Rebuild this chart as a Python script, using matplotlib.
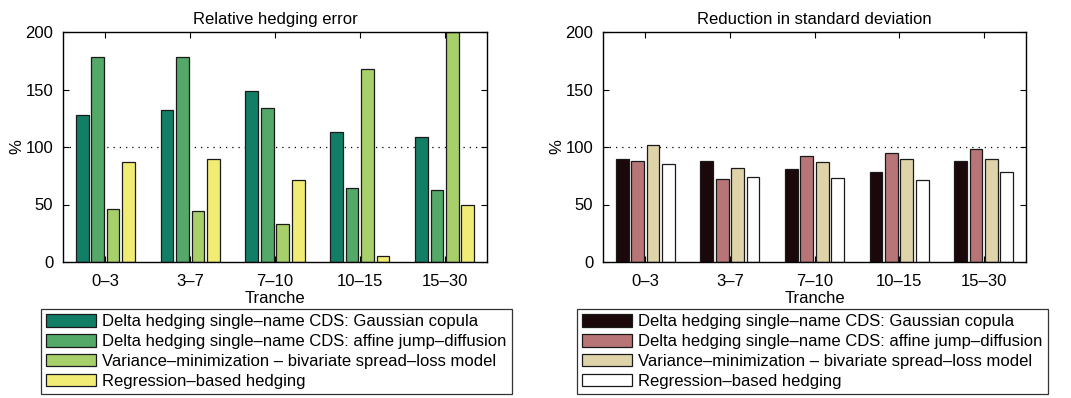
import matplotlib
matplotlib.use("Agg")
import matplotlib.pyplot as plt
import numpy as np

plt.rcParams['font.family'] = ['Liberation Sans', 'DejaVu Sans']

tranches = ["0–3", "3–7", "7–10", "10–15", "15–30"]
strategies = [
    "Delta hedging single–name CDS: Gaussian copula",
    "Delta hedging single–name CDS: affine jump–diffusion",
    "Variance–minimization – bivariate spread–loss model",
    "Regression–based hedging",
]

# Relative hedging error (%) per strategy, one value per tranche
err_gauss = [128, 132, 149, 113, 109]
err_affine = [178, 178, 134, 64, 63]
err_varmin = [46, 44, 33, 168, 200]
err_regr = [87, 90, 71, 5, 50]

# Reduction in standard deviation (%) per strategy
red_gauss = [90, 88, 81, 78, 88]
red_affine = [88, 72, 92, 95, 98]
red_varmin = [102, 82, 87, 90, 90]
red_regr = [85, 74, 73, 71, 78]

colors_left = ["#137e66", "#54a868", "#a8d06a", "#f1ec74"]
colors_right = ["#1b080b", "#b87577", "#dfd4a9", "#ffffff"]

fig = plt.figure(figsize=(10.71, 3.98), dpi=100)
ax1 = fig.add_axes([63 / 1071, 136 / 398, 424 / 1071, 230 / 398])
ax2 = fig.add_axes([603 / 1071, 136 / 398, 423 / 1071, 230 / 398])

x = np.arange(1, len(tranches) + 1)
step = 0.182
width = 0.15
offsets = (np.arange(4) - 1.5) * step


def draw(ax, series, colors, title, legend_x):
    handles = []
    for off, vals, col, lab in zip(offsets, series, colors, strategies):
        h = ax.bar(x + off, vals, width=width, color=col, edgecolor="#1a1a1a",
                   linewidth=0.9, label=lab, zorder=2)
        handles.append(h)
    ax.axhline(100, color="black", linestyle=(0, (1, 4)), linewidth=0.9, zorder=1)
    ax.set_xlim(0.5, 5.5)
    ax.set_ylim(0, 200)
    ax.set_yticks([0, 50, 100, 150, 200])
    ax.set_xticks(x)
    ax.set_xticklabels(tranches)
    ax.tick_params(direction="in", top=True, right=True, length=4, width=0.8,
                   labelsize=12)
    ax.tick_params(axis="x", pad=9)
    ax.tick_params(axis="y", pad=7)
    for s in ax.spines.values():
        s.set_linewidth(1.0)
    ax.set_title(title, fontsize=12, pad=6)
    ax.set_xlabel("Tranche", fontsize=12, labelpad=1)
    ax.set_ylabel("%", fontsize=12, labelpad=1)
    leg = fig.legend(handles=handles, loc="upper center",
                     bbox_to_anchor=(legend_x, 89 / 398), fontsize=12,
                     frameon=True, fancybox=False, edgecolor="black",
                     handlelength=3.0, handleheight=0.8, handletextpad=0.35,
                     labelspacing=0.28, borderpad=0.3, borderaxespad=0)
    leg.get_frame().set_linewidth(0.9)


draw(ax1, [err_gauss, err_affine, err_varmin, err_regr], colors_left,
     "Relative hedging error", 276.5 / 1071)
draw(ax2, [red_gauss, red_affine, red_varmin, red_regr], colors_right,
     "Reduction in standard deviation", 812.5 / 1071)

fig.savefig("out.png", dpi=100)
